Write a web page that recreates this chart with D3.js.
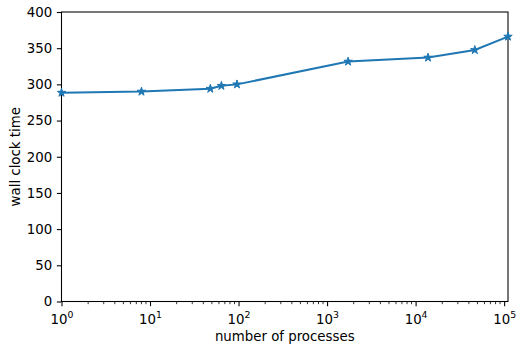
<!DOCTYPE html>
<html>
<head>
<meta charset="utf-8">
<script src="https://cdn.jsdelivr.net/npm/d3@7"></script>
<style>
  html, body { margin: 0; padding: 0; background: #fff; }
  svg { display: block; font-family: "DejaVu Sans", sans-serif; }
</style>
</head>
<body>
<svg id="chart" width="523" height="347"></svg>
<script>
// Scaling run: number of processes vs. wall clock time
const processes = [1, 8, 48, 64, 96, 1728, 13824, 46656, 110592];
const wallTime  = [288.5, 290, 294, 298, 300, 331.5, 337, 347.5, 366];
const yTicks = [0, 50, 100, 150, 200, 250, 300, 350, 400];
const xDecades = [0, 1, 2, 3, 4, 5];

const W = 523, H = 347;
const margin = { left: 61.5, right: 15, top: 12, bottom: 45.5 };
const svg = d3.select("#chart");

const x = d3.scaleLog()
  .domain([1, d3.max(processes)])
  .range([margin.left, W - margin.right]);
const y = d3.scaleLinear()
  .domain([0, 400])
  .range([H - margin.bottom, margin.top]);

const color = "#1f77b4";
const fontSize = 13.33;
const tickLen = 4.67, tickPad = 4.67, minorLen = 2.67;

// Y axis
const yAxis = svg.append("g")
  .attr("transform", `translate(${margin.left},0)`)
  .call(d3.axisLeft(y).tickValues(yTicks).tickSize(tickLen).tickPadding(tickPad));
yAxis.selectAll("text").attr("font-size", fontSize).attr("fill", "#000")
  .attr("font-family", "DejaVu Sans");

// X axis: major decade ticks with superscript labels
const xMajor = xDecades.map(e => Math.pow(10, e));
const xMinor = [];
xDecades.forEach(e => {
  for (let k = 2; k <= 9; k++) {
    const v = k * Math.pow(10, e);
    if (v <= x.domain()[1]) xMinor.push(v);
  }
});

const xAxisG = svg.append("g")
  .attr("transform", `translate(0,${H - margin.bottom})`)
  .call(d3.axisBottom(x).tickValues(xMajor).tickSize(tickLen).tickPadding(tickPad).tickFormat(""));
xAxisG.selectAll(".tick text").each(function(d) {
  const t = d3.select(this)
    .attr("font-size", fontSize).attr("fill", "#000")
    .attr("font-family", "DejaVu Sans")
    .attr("dy", "0.95em");
  t.text(null);
  t.append("tspan").text("10");
  t.append("tspan")
    .attr("font-size", fontSize * 0.7)
    .attr("dy", "-0.6em")
    .text(Math.round(Math.log10(d)));
});
const minorG = svg.append("g")
  .attr("transform", `translate(0,${H - margin.bottom})`);
minorG.selectAll("line").data(xMinor).join("line")
  .attr("x1", d => x(d)).attr("x2", d => x(d))
  .attr("y1", 0).attr("y2", minorLen)
  .attr("stroke", "#000").attr("stroke-width", 0.8);

svg.selectAll(".domain").remove();
svg.selectAll(".tick line").attr("stroke", "#000").attr("stroke-width", 1.07);

// Frame
svg.append("rect")
  .attr("x", margin.left).attr("y", margin.top)
  .attr("width", W - margin.right - margin.left)
  .attr("height", H - margin.bottom - margin.top)
  .attr("fill", "none").attr("stroke", "#000").attr("stroke-width", 1.07);

// Data line and markers
const pts = processes.map((p, i) => [p, wallTime[i]]);
svg.append("path")
  .datum(pts)
  .attr("fill", "none")
  .attr("stroke", color)
  .attr("stroke-width", 2)
  .attr("d", d3.line().x(d => x(d[0])).y(d => y(d[1])));

const star = d3.symbol().type(d3.symbolStar).size(22);
svg.append("g").selectAll("path").data(pts).join("path")
  .attr("transform", d => `translate(${x(d[0])},${y(d[1])})`)
  .attr("d", star)
  .attr("fill", color)
  .attr("stroke", color)
  .attr("stroke-width", 1);

// Axis labels
svg.append("text")
  .attr("x", (margin.left + W - margin.right) / 2)
  .attr("y", 341)
  .attr("text-anchor", "middle")
  .attr("font-size", fontSize)
  .attr("fill", "#000")
  .text("number of processes");

svg.append("text")
  .attr("transform", `translate(20,${(margin.top + H - margin.bottom) / 2}) rotate(-90)`)
  .attr("text-anchor", "middle")
  .attr("font-size", fontSize)
  .attr("fill", "#000")
  .text("wall clock time");
</script>
</body>
</html>
